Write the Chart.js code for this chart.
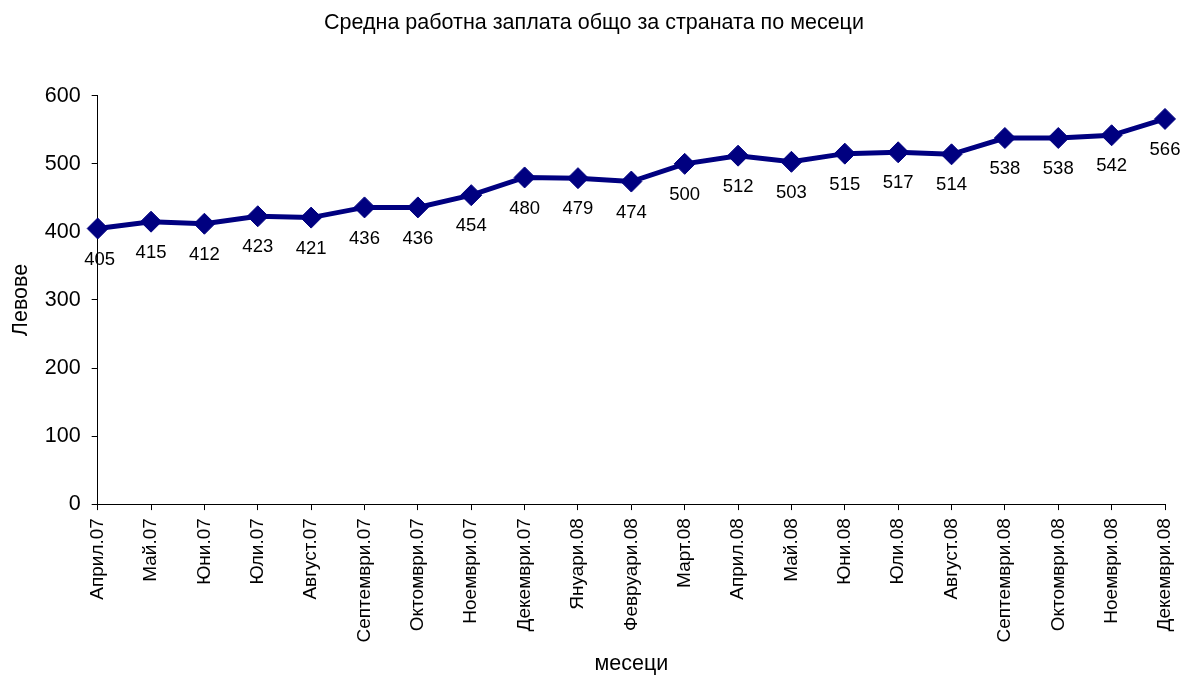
<!DOCTYPE html>
<html>
<head>
  <title>Средна работна заплата</title>
  <script src="https://cdn.jsdelivr.net/npm/chart.js"></script>
  <style>
    html, body { margin: 0; padding: 0; background: white; }
    #wrap { width: 1180px; height: 675px; }
  </style>
</head>
<body>
<div id="wrap"><canvas id="wageChart" width="1180" height="675"></canvas></div>

<script>
const months = ['Април.07','Май.07','Юни.07','Юли.07','Август.07','Септември.07','Октомври.07',
  'Ноември.07','Декември.07','Януари.08','Февруари.08','Март.08','Април.08','Май.08','Юни.08',
  'Юли.08','Август.08','Септември.08','Октомври.08','Ноември.08','Декември.08'];
const wages = [405, 415, 412, 423, 421, 436, 436, 454, 480, 479, 474, 500, 512, 503, 515, 517, 514, 538, 538, 542, 566];
const yTicks = [0, 100, 200, 300, 400, 500, 600];

const font = "'Liberation Sans', Arial, sans-serif";

// values under each marker
const valueLabels = {
  id: 'valueLabels',
  afterDatasetsDraw(chart) {
    const ctx = chart.ctx;
    const meta = chart.getDatasetMeta(0);
    ctx.save();
    ctx.font = '18.5px ' + font;
    ctx.fillStyle = '#000';
    ctx.textAlign = 'center';
    ctx.textBaseline = 'middle';
    meta.data.forEach((pt, i) => {
      ctx.fillText(wages[i], pt.x + (i === 0 ? 2 : 0), pt.y + 31);
    });
    ctx.restore();
  }
};

new Chart(document.getElementById('wageChart'), {
  type: 'line',
  data: {
    labels: months,
    datasets: [{
      data: wages,
      borderColor: '#000080',
      backgroundColor: '#000080',
      borderWidth: 5,
      pointStyle: 'rectRot',
      pointRadius: 10.5,
      pointHoverRadius: 10.5,
      pointBorderWidth: 1,
      tension: 0
    }]
  },
  options: {
    responsive: false,
    animation: false,
    layout: { padding: { left: 8, right: 0, top: 0, bottom: 0 } },
    plugins: {
      legend: { display: false },
      tooltip: { enabled: false },
      title: {
        display: true,
        text: 'Средна работна заплата общо за страната по месеци',
        color: '#000',
        font: { family: font, size: 21.5, weight: 'normal' },
        padding: { top: 10, bottom: 60 }
      }
    },
    scales: {
      x: {
        offset: false,
        afterFit(scale) { scale.paddingRight = 15; },
        grid: { display: true, drawOnChartArea: false, drawTicks: true, tickLength: 6, color: '#000' },
        border: { color: '#000', width: 1 },
        ticks: {
          color: '#000', minRotation: 90, maxRotation: 90, autoSkip: false,
          font: { family: font, size: 19 }, padding: 8
        },
        title: { display: true, text: 'месеци', color: '#000', font: { family: font, size: 21.5, lineHeight: 1.0 }, padding: { top: 3, bottom: 0 } }
      },
      y: {
        min: 0, max: 600,
        afterBuildTicks(axis) { axis.ticks = yTicks.map(v => ({ value: v })); },
        grid: { display: true, drawOnChartArea: false, drawTicks: true, tickLength: 6, color: '#000' },
        border: { color: '#000', width: 1 },
        ticks: { color: '#000', font: { family: font, size: 21.5 }, padding: 11 },
        title: { display: true, text: 'Левове', color: '#000', font: { family: font, size: 21.5 }, padding: { top: 0, bottom: 0 } }
      }
    }
  },
  plugins: [valueLabels]
});
</script>
</body>
</html>
